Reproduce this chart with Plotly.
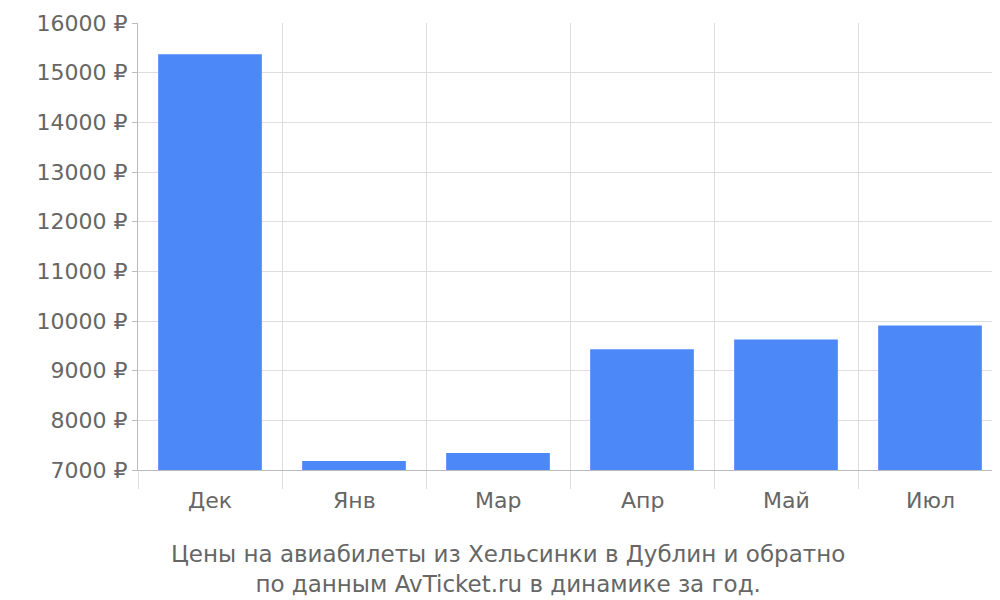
import plotly.graph_objects as go

months = ["Дек", "Янв", "Мар", "Апр", "Май", "Июл"]
prices = [15370, 7180, 7340, 9430, 9630, 9910]
y_ticks = list(range(7000, 16001, 1000))

xs = list(range(len(months)))
fig = go.Figure()
fig.add_trace(go.Bar(x=xs, y=prices, width=0.72, marker_color="#4d88f8",
                     marker_line_width=0, hoverinfo="y"))

fig.update_layout(
    width=1000, height=600,
    margin=dict(l=130, r=6, t=15, b=138),
    plot_bgcolor="white", paper_bgcolor="white",
    font=dict(family="DejaVu Sans", color="#666666", size=22),
    showlegend=False,
    xaxis=dict(range=[-0.5, 5.5], tickvals=[i - 0.5 for i in range(7)],
               ticktext=[""] * 7, showgrid=True, gridcolor="#dddddd",
               ticks="outside", ticklen=18, tickcolor="#dddddd", automargin=False,
               showline=True, linecolor="#bbbbbb", zeroline=False),
    yaxis=dict(range=[7000, 16000], tickvals=y_ticks, automargin=False,
               ticktext=[f"{v} ₽" for v in y_ticks], showgrid=True,
               gridcolor="#dddddd", showline=True, linecolor="#bbbbbb",
               ticks="outside", ticklen=5, tickcolor="#bbbbbb", zeroline=False),
)
for x, m in zip(xs, months):
    fig.add_annotation(text=m, x=x, xref="x", yref="paper", y=-0.035, yanchor="top",
                       showarrow=False, font=dict(size=22, color="#666666"))
fig.add_annotation(text="Цены на авиабилеты из Хельсинки в Дублин и обратно<br>по данным AvTicket.ru в динамике за год.",
                   xref="paper", yref="paper", x=0.428, y=-0.155, yanchor="top",
                   showarrow=False, font=dict(size=23, color="#666666"))
fig.write_html("out.html")
